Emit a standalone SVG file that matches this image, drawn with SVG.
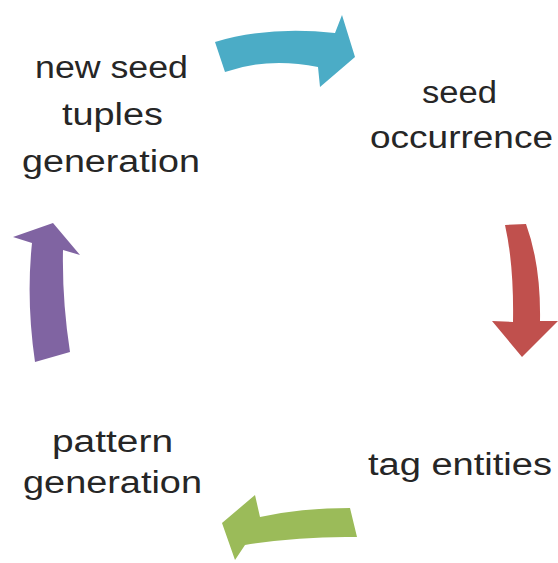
<svg xmlns="http://www.w3.org/2000/svg" width="558" height="563" viewBox="0 0 558 563">
<style>
.lbl{font-family:"Liberation Sans",Arial,sans-serif;font-size:31px;fill:#262626;text-anchor:start}
</style>
<rect width="558" height="563" fill="#ffffff"/>
<g id="connectors">
<path id="arrow-blue" fill="#4BACC6" d="M215,42 Q268,26 335,33 L342,15 L355,57 L320,87 L318,67 Q268,57 225,72 Z"/>
<path id="arrow-red" fill="#C0504D" d="M505,225 L526,224 Q541,265 540,321 L558,321 L522,357 L492,321 L513,322 Q514,265 505,225 Z"/>
<path id="arrow-green" fill="#9BBB59" d="M350,508 L357,537 Q300,536 245,545 L235,560 L222,523 L255,495 L260,517 Q300,508 350,508 Z"/>
<path id="arrow-purple" fill="#8064A2" d="M35,362 Q26,300 32,243 L13,237 L53,223 L80,255 L63,250 Q62,300 70,352 Z"/>
</g>
<g id="node-new-seed-tuples">
<text class="lbl" x="35" y="78" textLength="153" lengthAdjust="spacingAndGlyphs">new seed</text>
<text class="lbl" x="62" y="125" textLength="101" lengthAdjust="spacingAndGlyphs">tuples</text>
<text class="lbl" x="22" y="172" textLength="178" lengthAdjust="spacingAndGlyphs">generation</text>
</g>
<g id="node-seed-occurrence">
<text class="lbl" x="422" y="103" textLength="75" lengthAdjust="spacingAndGlyphs">seed</text>
<text class="lbl" x="370" y="148" textLength="183" lengthAdjust="spacingAndGlyphs">occurrence</text>
</g>
<g id="node-tag-entities">
<text class="lbl" x="368" y="475" textLength="184" lengthAdjust="spacingAndGlyphs">tag entities</text>
</g>
<g id="node-pattern-generation">
<text class="lbl" x="52" y="452" textLength="121" lengthAdjust="spacingAndGlyphs">pattern</text>
<text class="lbl" x="23" y="493" textLength="179" lengthAdjust="spacingAndGlyphs">generation</text>
</g>
</svg>
